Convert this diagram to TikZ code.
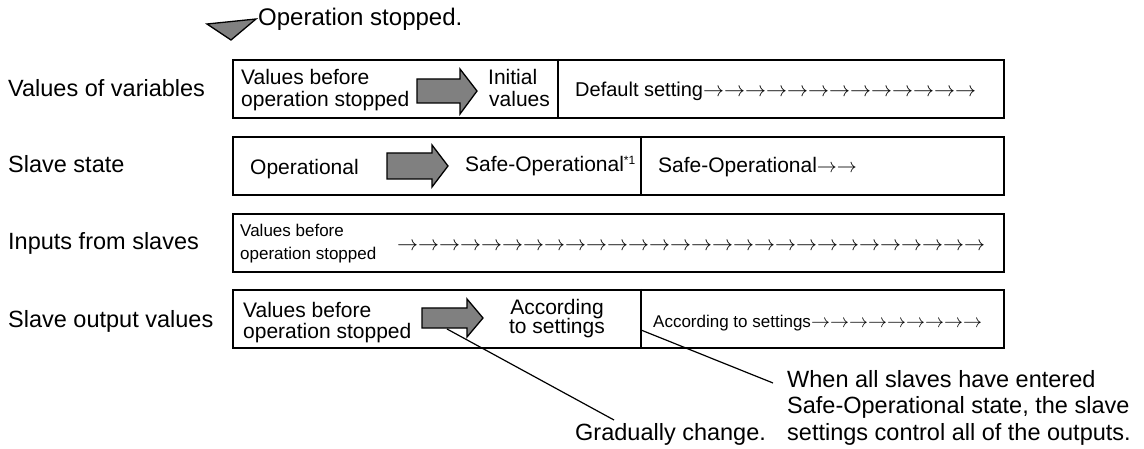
\documentclass[tikz,border=0pt]{standalone}
\usepackage{graphicx}
\usepackage{fontspec}
\setmainfont{Liberation Sans}
\definecolor{arrgray}{RGB}{128,128,128}
\newcommand\rarrs[2]{\foreach \i in {1,...,#2}{\scalebox{#1}{\normalsize\(\rightarrow\)}}}
\begin{document}
\begin{tikzpicture}[x=1pt,y=-1pt,
  box/.style={draw,line width=1.8pt,minimum width=771pt,minimum height=58pt,anchor=north west,inner sep=0pt},
  lbl/.style={anchor=base west,inner sep=0pt,font=\fontsize{23.5}{26}\selectfont},
  txt/.style={anchor=base west,inner sep=0pt,font=\fontsize{21}{22}\selectfont},
  ctxt/.style={anchor=base,inner sep=0pt,font=\fontsize{21}{22}\selectfont},
  small/.style={anchor=base west,inner sep=0pt,font=\fontsize{17}{18}\selectfont},
  blk/.style={draw,line width=1.3pt,fill=arrgray,line join=miter},
  divider/.style={line width=1.4pt},
  leader/.style={line width=1.2pt}]
\useasboundingbox (0,0) rectangle (1144,449);

% marker
\filldraw[blk] (207,24) -- (256,19) -- (231,40) -- cycle;
\node[lbl,font=\fontsize{24}{26}\selectfont] (stop) at (258,26) {Operation stopped.};

% row labels
\node[lbl] (l1) at (8,97) {Values of variables};
\node[lbl] (l2) at (8,173) {Slave state};
\node[lbl] (l3) at (8,250) {Inputs from slaves};
\node[lbl] (l4) at (8,327) {Slave output values};

% boxes
\node[box] (b1) at (232,59) {};
\node[box] (b2) at (232,136) {};
\node[box] (b3) at (232,213) {};
\node[box] (b4) at (232,289) {};
\draw[divider] (558,59) -- (558,117);
\draw[divider] (641,136) -- (641,194);
\draw[divider] (641,289) -- (641,347);

% row 1
\node[txt] (r1a) at (241,85) {Values before};
\node[txt] (r1b) at (241,107) {operation stopped};
\filldraw[blk] (417,79) -- (460,79) -- (460,69) -- (477,91) -- (460,114) -- (460,103) -- (417,103) -- cycle;
\node[txt] (r1c) at (488,85) {Initial};
\node[txt] (r1d) at (489,107) {values};
\node[anchor=base west,inner sep=0pt,font=\fontsize{20}{22}\selectfont] (r1e) at (575,97) {Default setting\rarrs{2.1}{13}};

% row 2
\node[txt] (r2a) at (250,175) {Operational};
\filldraw[blk] (387,153) -- (432,153) -- (432,145) -- (448,166) -- (432,187) -- (432,179) -- (387,179) -- cycle;
\node[txt] (r2b) at (465,172) {Safe-Operational{\fontsize{12}{12}\selectfont\raisebox{7pt}{*1}}};
\node[txt] (r2c) at (658,173) {Safe-Operational\rarrs{2.0}{2}};

% row 3
\node[small] (r3a) at (240,237) {Values before};
\node[small] (r3b) at (240,260) {operation stopped};
\node[anchor=base west,inner sep=0pt,font=\fontsize{21}{22}\selectfont] (r3c) at (397,251) {\rarrs{2.1}{28}};

% row 4
\node[txt] (r4a) at (243,317) {Values before};
\node[txt] (r4b) at (243,338) {operation stopped};
\filldraw[blk] (422,308) -- (467,308) -- (467,299) -- (483,318) -- (467,337) -- (467,328) -- (422,328) -- cycle;
\node[ctxt] (r4c) at (557,315) {According};
\node[ctxt] (r4d) at (557,334) {to settings};
\node[small] (r4e) at (653,327) {According to settings\rarrs{1.9}{9}};

% annotations
\node[lbl] (gc) at (575,440) {Gradually change.};
\node[lbl] (w1) at (787,387) {When all slaves have entered};
\node[lbl] (w2) at (787,413) {Safe-Operational state, the slave};
\node[lbl] (w3) at (787,440) {settings control all of the outputs.};

\coordinate (g1) at (447,329);
\coordinate (g2) at (614,420);
\coordinate (s1) at (641,330);
\coordinate (s2) at (773,383);
\draw[leader] (g1) -- (g2);
\draw[leader] (s1) -- (s2);
\end{tikzpicture}
\end{document}
